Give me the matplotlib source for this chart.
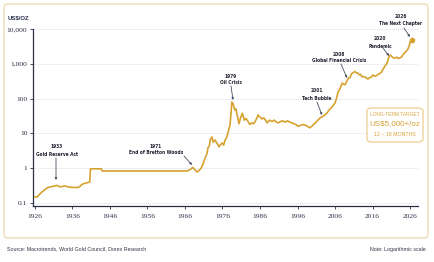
import numpy as np
import matplotlib.pyplot as plt
from matplotlib import font_manager as fm
from matplotlib.patches import FancyBboxPatch
from matplotlib.ticker import NullLocator

# gold price, US$/oz (log scale)
years = [1926.0, 1926.6, 1927.3, 1927.9, 1928.6, 1929.2, 1930.0, 1930.8, 1931.4, 1931.9,
         1932.7, 1933.4, 1934.0, 1934.8, 1936.0, 1937.5, 1938.0, 1938.5, 1939.3, 1940.1,
         1940.6, 1940.8, 1943.7, 1943.9, 1966.6, 1967.4, 1968.1, 1968.6, 1969.2, 1969.7,
         1970.3, 1970.8, 1971.3, 1971.9, 1972.1, 1972.5, 1972.7, 1973.2, 1973.5, 1974.0,
         1974.5, 1975.1, 1975.5, 1975.9, 1976.3, 1976.7, 1977.1, 1977.5, 1978.0, 1978.3,
         1978.5, 1978.8, 1979.3, 1979.6, 1979.9, 1980.4, 1980.8, 1981.3, 1981.8, 1982.3,
         1982.8, 1983.3, 1983.8, 1984.3, 1984.7, 1985.2, 1985.5, 1985.9, 1986.5, 1987.0,
         1987.5, 1987.9, 1988.5, 1989.2, 1989.8, 1990.4, 1990.8, 1991.5, 1992.0, 1992.7,
         1993.3, 1994.0, 1994.5, 1995.0, 1995.6, 1996.1, 1996.8, 1997.4, 1998.0, 1998.6,
         1999.3, 1999.8, 2000.3, 2000.7, 2001.3, 2002.0, 2002.6, 2003.3, 2003.8, 2004.5,
         2005.2, 2005.6, 2006.0, 2006.5, 2006.8, 2007.4, 2007.9, 2008.3, 2008.7, 2009.2,
         2009.6, 2010.0, 2010.4, 2010.9, 2011.3, 2011.7, 2012.1, 2012.5, 2012.8, 2013.2,
         2013.6, 2014.0, 2014.4, 2014.8, 2015.2, 2015.6, 2016.1, 2016.6, 2017.0, 2017.5,
         2017.9, 2018.4, 2018.8, 2019.3, 2019.9, 2020.3, 2020.7, 2021.1, 2021.5, 2022.0,
         2022.5, 2022.9, 2023.3, 2023.8, 2024.1, 2024.6, 2025.0, 2025.4, 2025.8, 2026.0,
         2026.5]
prices = [0.15, 0.15, 0.18, 0.21, 0.24, 0.27, 0.29, 0.30, 0.31, 0.32,
          0.29, 0.30, 0.31, 0.29, 0.28, 0.28, 0.30, 0.34, 0.37, 0.39,
          0.40, 0.96, 0.96, 0.83, 0.83, 0.92, 1.05, 0.92, 0.78, 0.85,
          1.0, 1.3, 1.9, 2.7, 3.8, 4.3, 6.5, 7.9, 5.6, 6.5,
          5.3, 4.1, 4.8, 5.3, 4.6, 6.5, 7.5, 11, 17.4, 40,
          80, 72, 47, 50, 34, 19, 28, 38, 24, 27,
          22, 18, 20, 19, 22, 28, 34, 30, 26, 28,
          24, 20, 24, 22, 24, 21, 20, 22, 23, 21,
          23, 21, 20, 19, 18, 16, 17, 18, 17.5, 16,
          14.5, 16, 18, 20, 23, 28, 30, 34, 38, 48,
          57, 65, 75, 110, 155, 200, 280, 260, 250, 330,
          390, 400, 520, 560, 600, 545, 544, 480, 500, 420,
          430, 417, 390, 365, 400, 410, 476, 440, 450, 500,
          520, 580, 700, 850, 1054, 1500, 1790, 1650, 1500, 1450,
          1550, 1420, 1470, 1600, 1800, 2100, 2300, 2600, 3300, 4200,
          4830]

xticks = [1926, 1936, 1946, 1956, 1966, 1976, 1986, 1996, 2006, 2016, 2026]
yticks = [0.1, 1, 10, 100, 1000, 10000]
ytick_labels = ['0.1', '1', '10', '100', '1,000', '10,000']

# label, text centre x, first line y, arrow start, arrow end (pixels)
events = [
    ('1933', 'Gold Reserve Act', 57, 147, (56, 158), (56, 180)),
    ('1971', 'End of Bretton Woods', 156, 146, (184, 156), (192, 165)),
    ('1979', 'Oil Crisis', 231, 76, (231, 86), (233, 100)),
    ('2001', 'Tech Bubble', 317, 91, (317, 102), (322, 115)),
    ('2008', 'Global Financial Crisis', 339, 54, (341, 64), (347, 78)),
    ('2020', 'Pandemic', 380, 39, (383, 48), (389, 56)),
    ('2026', 'The Next Chapter', 401, 17, (404, 28), (410, 37)),
]

GOLD = '#D6A22F'
NAVY = '#2b2f48'
W, H = 434, 262

# narrow face for the small annotation text, if there is one
names = {f.name for f in fm.fontManager.ttflist}
cond = [f for f in fm.fontManager.ttflist if f.name == 'DejaVu Sans' and 'ondensed' in str(f.stretch) + f.fname]
if 'Liberation Sans Narrow' in names:
    ann_kw = dict(family='Liberation Sans Narrow', fontsize=3.9)
elif cond:
    ann_kw = dict(family='DejaVu Sans', stretch='condensed', fontsize=3.5)
else:
    ann_kw = dict(family='Liberation Sans', fontsize=3.1)


def fp(x, y):
    return (x / W, 1 - y / H)


fig = plt.figure(figsize=(W / 100, H / 100), dpi=100)
fig.patch.set_facecolor('white')

frame = FancyBboxPatch(fp(4, 238), 424 / W, 234 / H, boxstyle='round,pad=0,rounding_size=0.012',
                       transform=fig.transFigure, fc='white', ec='#f0dcb6', lw=1.0, zorder=-5)
fig.patches.append(frame)

ax = fig.add_axes([33 / W, 1 - 206 / H, 385 / W, 177 / H])
ax.set_facecolor('none')
ax.plot(years, prices, color=GOLD, lw=1.2, solid_joinstyle='round', zorder=3)
ax.plot(years[-1], prices[-1], 'o', ms=3, color=GOLD, zorder=4)

ax.set_yscale('log')
ax.set_xlim(1925.47, 2028.13)
ax.set_ylim(0.082, 10000)
ax.set_yticks(yticks)
ax.set_yticklabels(ytick_labels)
ax.yaxis.set_minor_locator(NullLocator())
ax.set_xticks(xticks)
ax.yaxis.grid(True, ls=(0, (1, 1.5)), color='#cdd0d8', lw=0.6)
ax.set_axisbelow(True)

for s in ['top', 'right']:
    ax.spines[s].set_visible(False)
for s in ['left', 'bottom']:
    ax.spines[s].set_color(NAVY)
    ax.spines[s].set_linewidth(0.9)
ax.tick_params(axis='both', length=2, width=0.6, color=NAVY, labelcolor=NAVY, pad=2)
for lab in ax.get_xticklabels() + ax.get_yticklabels():
    lab.set_family('Liberation Serif')
    lab.set_fontsize(5.4)
ax.tick_params(axis='x', pad=3.5)

fig.text(*fp(8, 18), 'US$/OZ', fontsize=4.3, color=NAVY, family='Liberation Sans',
         weight='bold', va='center', ha='left')

for yr, desc, tx, ty, a0, a1 in events:
    fig.text(*fp(tx, ty), yr, color='#222233', weight='bold', ha='center', va='center', **ann_kw)
    fig.text(*fp(tx, ty + 7), desc, color='#222233', weight='bold', ha='center', va='center', **ann_kw)
    ax.annotate('', xy=fp(*a1), xytext=fp(*a0), xycoords='figure fraction',
                textcoords='figure fraction',
                arrowprops=dict(arrowstyle='-|>', mutation_scale=3, lw=0.6,
                                color='#4a4f66', shrinkA=0, shrinkB=0))

# target box
box = FancyBboxPatch(fp(367, 142), 56 / W, 34 / H, boxstyle='round,pad=0,rounding_size=0.012',
                     transform=fig.transFigure, fc='white', ec='#EDCF8E', lw=0.9, zorder=5)
fig.patches.append(box)
fig.text(*fp(395, 114), 'LONG-TERM TARGET', fontsize=3.5, color='#D9A845', family='Liberation Sans',
         ha='center', va='center', zorder=6)
fig.text(*fp(395, 124), 'US$5,000+/oz', fontsize=5.8, color='#D6A233', family='Liberation Sans',
         ha='center', va='center', zorder=6)
fig.text(*fp(395, 134), '12 – 18 MONTHS', fontsize=3.8, color='#D6A233', family='Liberation Sans',
         ha='center', va='center', zorder=6)

fig.text(*fp(7, 249), 'Source: Macrotrends, World Gold Council, Dorex Research', fontsize=3.8,
         color='#333344', family='Liberation Sans', ha='left', va='center')
fig.text(*fp(426, 249), 'Note: Logarithmic scale', fontsize=3.8, color='#333344',
         family='Liberation Sans', ha='right', va='center')

fig.savefig('out.png', dpi=100, facecolor='white')
